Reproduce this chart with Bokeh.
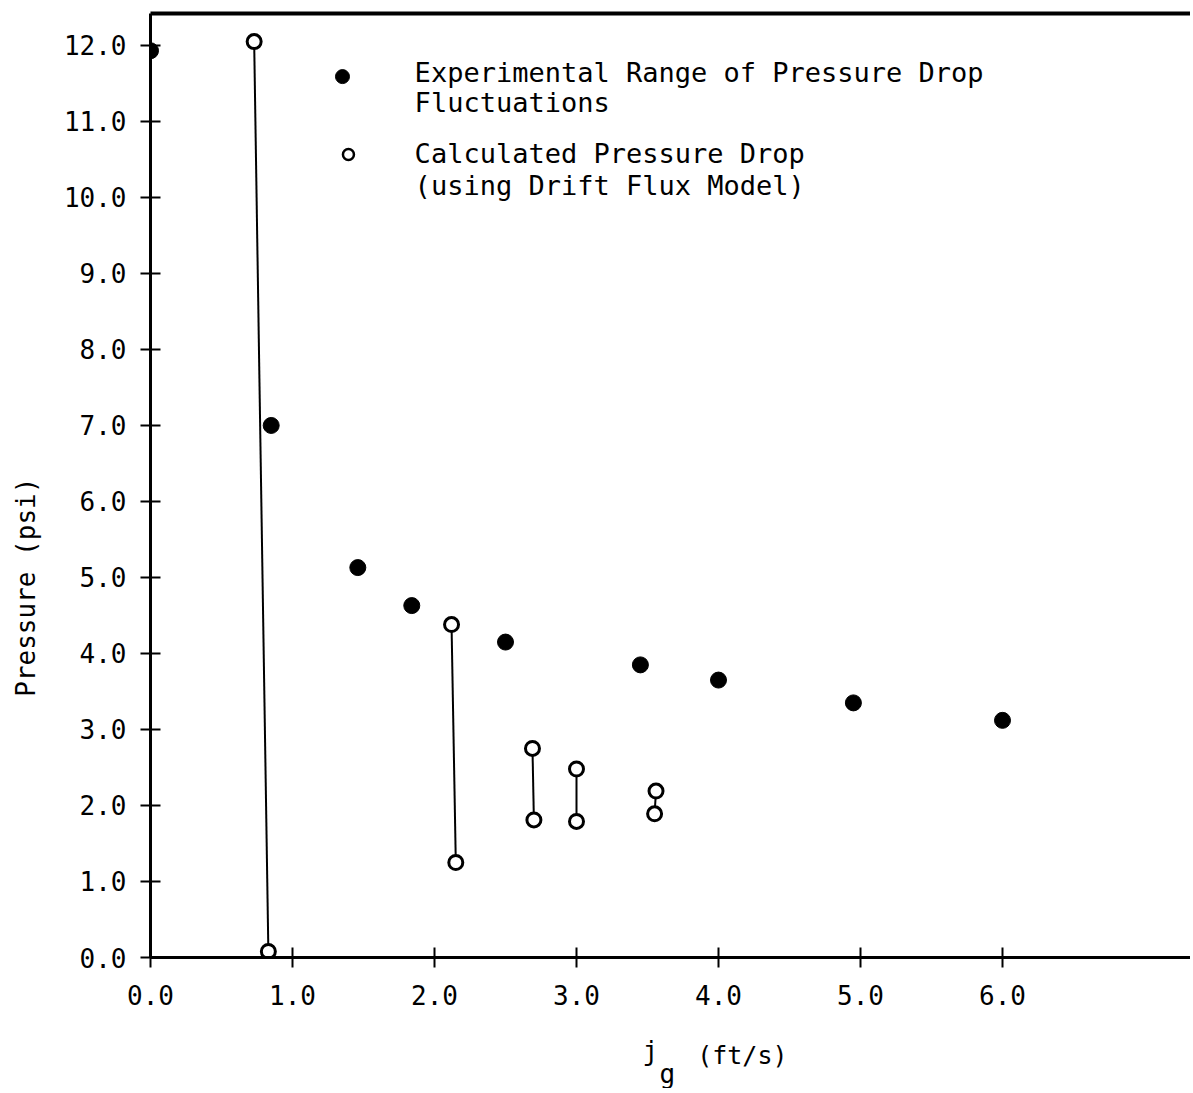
from bokeh.plotting import figure
from bokeh.layouts import column
from bokeh.models import Range1d, FixedTicker, NumeralTickFormatter, LinearAxis
from bokeh.core.properties import value
from bokeh.embed import file_html
from bokeh.resources import INLINE

# ---- data ----
exp_jg = [0.0, 0.85, 1.46, 1.84, 2.50, 3.45, 4.00, 4.95, 6.00]
exp_p = [11.93, 7.0, 5.13, 4.63, 4.15, 3.85, 3.65, 3.35, 3.12]

calc_jg_high = [0.73, 2.12, 2.69, 3.00, 3.56]
calc_p_high = [12.05, 4.38, 2.75, 2.48, 2.19]
calc_jg_low = [0.83, 2.15, 2.70, 3.00, 3.55]
calc_p_low = [0.08, 1.25, 1.81, 1.79, 1.89]

x_ticks = [0, 1, 2, 3, 4, 5, 6]
y_ticks = [0, 1, 2, 3, 4, 5, 6, 7, 8, 9, 10, 11, 12]

legend_exp = ["Experimental Range of Pressure Drop", "Fluctuations"]
legend_calc = ["Calculated Pressure Drop", "(using Drift Flux Model)"]

y_title = "Pressure (psi)"
x_title_main = "j"
x_title_sub = "g"
x_title_unit = "(ft/s)"

FONT = "DejaVu Sans Mono"
W = 1190

xr = Range1d(0, (W - 150) / 142.0)

fig = figure(width=W, height=1027,
             x_range=xr, y_range=Range1d(0, 12.42),
             output_backend="svg", toolbar_location=None,
             min_border_left=150, min_border_right=0,
             min_border_top=13, min_border_bottom=70)
fig.grid.visible = False
fig.outline_line_color = None
fig.background_fill_color = "white"
fig.border_fill_color = "white"

for ax in (fig.xaxis[0], fig.yaxis[0]):
    ax.axis_line_width = 3
    ax.axis_line_color = "black"
    ax.major_tick_line_width = 2
    ax.major_tick_line_color = "black"
    ax.major_tick_in = 10
    ax.major_tick_out = 10
    ax.minor_tick_line_color = None
    ax.major_label_text_font = FONT
    ax.major_label_text_font_size = "26px"
    ax.major_label_text_color = "black"
    ax.formatter = NumeralTickFormatter(format="0.0")

fig.xaxis[0].ticker = FixedTicker(ticks=x_ticks)
fig.yaxis[0].ticker = FixedTicker(ticks=y_ticks)
fig.xaxis[0].major_label_standoff = 17
fig.yaxis[0].major_label_standoff = 14

# axis title (padded with no-break spaces so it sits lower, as in the scan)
fig.yaxis[0].axis_label = y_title + "\u00a0" * 13
fig.yaxis[0].axis_label_text_font = FONT
fig.yaxis[0].axis_label_text_font_size = "26px"
fig.yaxis[0].axis_label_text_font_style = "normal"
fig.yaxis[0].axis_label_text_color = "black"
fig.yaxis[0].axis_label_standoff = 20

# top border line
top = LinearAxis(ticker=FixedTicker(ticks=[]), axis_line_width=4,
                 major_tick_in=0, major_tick_out=0,
                 major_label_text_font_size="0px")
fig.add_layout(top, "above")

# calculated ranges: connecting segments then open circles
fig.segment(x0=calc_jg_high, y0=calc_p_high, x1=calc_jg_low, y1=calc_p_low,
            line_color="black", line_width=2)
fig.scatter(calc_jg_high, calc_p_high, marker="circle", size=14,
            fill_color="white", line_color="black", line_width=3)
fig.scatter(calc_jg_low, calc_p_low, marker="circle", size=14,
            fill_color="white", line_color="black", line_width=3)

# experimental points
fig.scatter(exp_jg, exp_p, marker="circle", size=16,
            fill_color="black", line_color="black")

# legend (drawn inside the plot)
fig.scatter([1.352], [11.59], marker="circle", size=14,
            fill_color="black", line_color="black")
fig.scatter([1.394], [10.565], marker="circle", size=11,
            fill_color="white", line_color="black", line_width=2.5)
fig.text(x=[1.86, 1.86], y=[11.64, 11.25], text=legend_exp,
         text_font=value(FONT), text_font_size="27px",
         text_baseline="middle", text_align="left", text_color="black")
fig.text(x=[1.86, 1.86], y=[10.58, 10.16], text=legend_calc,
         text_font=value(FONT), text_font_size="27px",
         text_baseline="middle", text_align="left", text_color="black")

# strip below for the x-axis title with its subscript (same x mapping)
sub = figure(width=W, height=61, x_range=xr, y_range=Range1d(0, 61),
             output_backend="svg", toolbar_location=None,
             x_axis_location=None, y_axis_location=None,
             min_border_left=150, min_border_right=0,
             min_border_top=0, min_border_bottom=0)
sub.grid.visible = False
sub.outline_line_color = None
sub.text(x=[3.52], y=[38], text=[x_title_main], text_font=value(FONT),
         text_font_size="26px", text_align="center", text_baseline="middle",
         text_color="black")
sub.text(x=[3.64], y=[15], text=[x_title_sub], text_font=value(FONT),
         text_font_size="26px", text_align="center", text_baseline="middle",
         text_color="black")
sub.text(x=[3.85], y=[33], text=[x_title_unit], text_font=value(FONT),
         text_font_size="25px", text_align="left", text_baseline="middle",
         text_color="black")

p = column(fig, sub, spacing=0)
open("out.html", "w").write(file_html(p, INLINE))
